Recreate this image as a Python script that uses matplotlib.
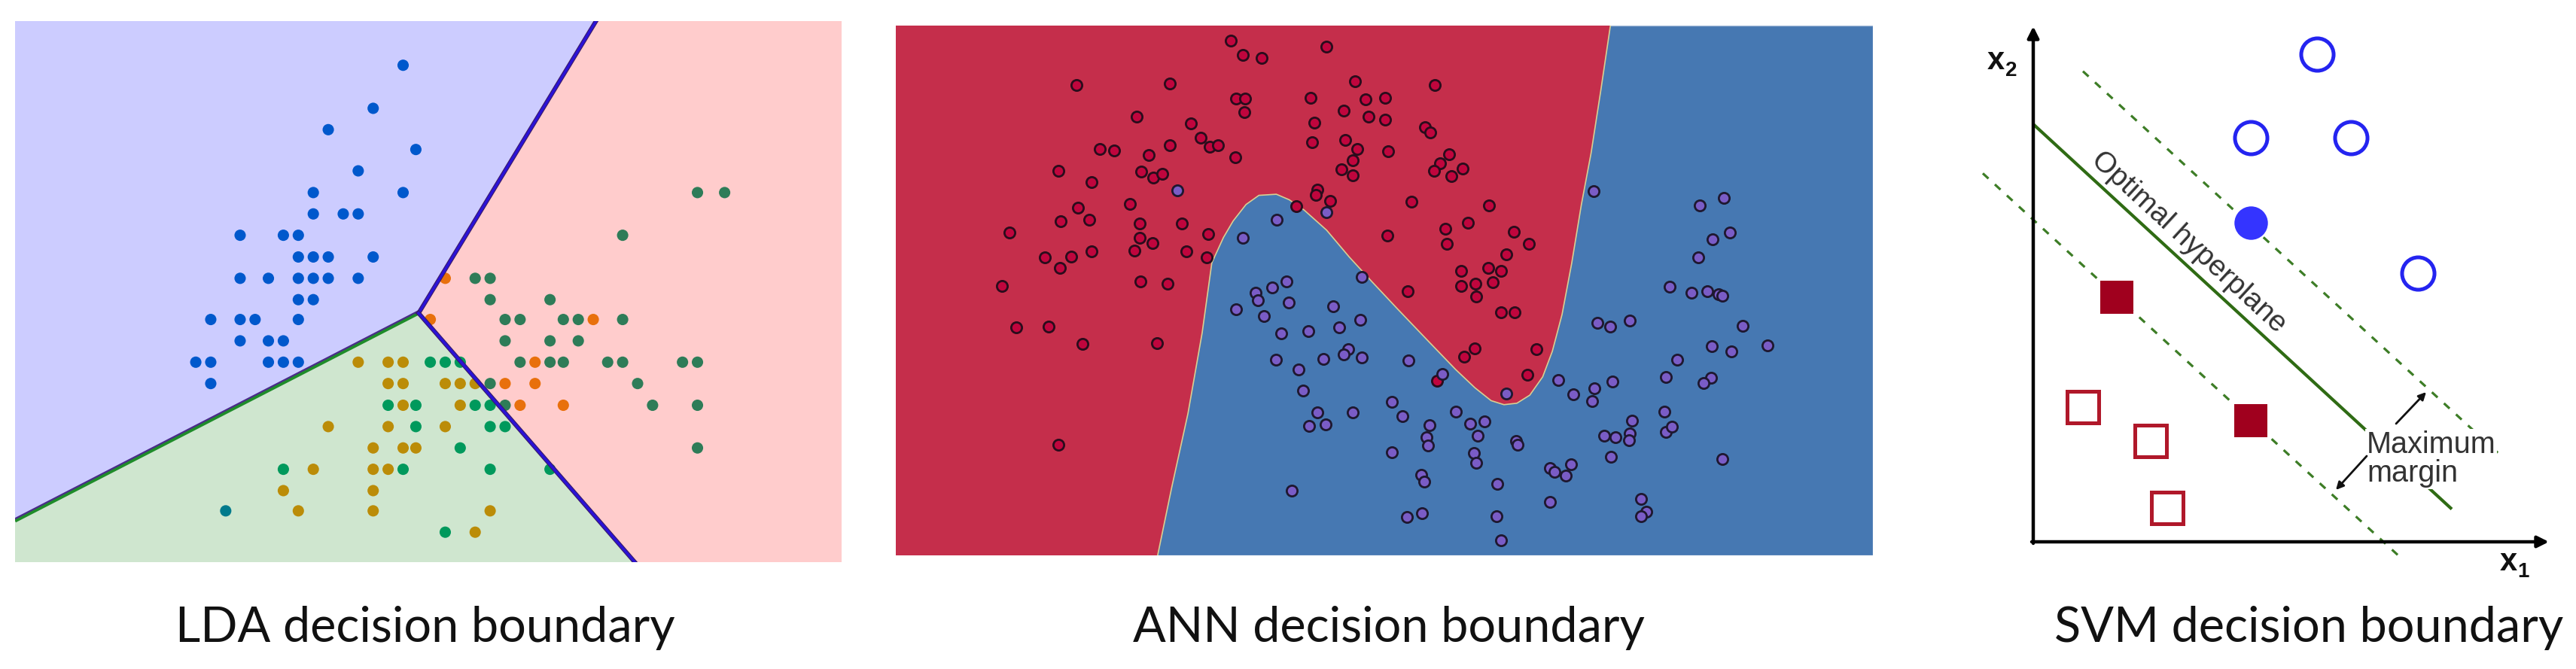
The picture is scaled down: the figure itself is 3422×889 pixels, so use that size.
import matplotlib
matplotlib.use("Agg")
import matplotlib.pyplot as plt
from matplotlib.patches import Polygon
import matplotlib.patheffects as pe

# ---------------- data ----------------
# Panel 1 (LDA) - point positions measured on the picture (x right, y down)
lda_blue = [(727,173),(673,288),(592,345),(750,398),(646,455),(565,513),(727,513),(565,570),(619,570),(646,570),
            (433,627),(511,627),(538,627),(538,685),(565,685),(592,685),(673,685),(433,742),(484,742),(538,742),
            (565,742),(592,742),(646,742),(538,799),(565,799),(380,852),(433,852),(460,852),(538,852),(433,909),
            (484,909),(511,909),(353,966),(380,966),(484,966),(511,966),(538,966),(380,1023)]
lda_darkgreen = [(1258,513),(1307,513),(1123,627),(857,742),(884,742),(884,799),(992,799),(911,852),(938,852),
                 (1016,852),(1043,852),(1123,852),(911,909),(992,909),(1043,909),(938,966),(992,966),(1016,966),
                 (1096,966),(1123,966),(1231,966),(1258,966),(884,1023),(1150,1023),(911,1081),(1177,1081),
                 (1258,1081),(1258,1195)]
lda_orange = [(803,742),(776,852),(1070,852),(965,966),(911,1023),(965,1023),(938,1081),(1016,1081)]
lda_gold = [(646,966),(700,966),(727,966),(700,1023),(727,1023),(803,1023),(830,1023),(857,1023),(727,1081),
            (830,1081),(592,1138),(700,1138),(803,1138),(673,1195),(727,1195),(750,1195),(565,1252),(673,1252),
            (700,1252),(511,1309),(673,1309),(538,1363),(673,1363),(884,1363),(857,1420)]
lda_green = [(776,966),(803,966),(830,966),(700,1081),(750,1081),(857,1081),(884,1081),(750,1138),(884,1138),
             (911,1138),(830,1195),(511,1252),(727,1252),(884,1252),(992,1252),(803,1420)]
lda_teal = [(407,1363)]
lda_junction = (755, 835)
lda_top_end = (1075, 55)
lda_left_end = (27, 1390)
lda_bottom_end = (1145, 1500)

# Panel 2 (ANN)
ann_red = [(541,113),(560,152),(589,160),(690,129),(302,235),(447,231),(734,224),(858,235),(549,272),(564,272),
           (665,270),(750,273),(781,270),(562,308),(717,304),(396,320),(755,320),(781,329),(479,338),(671,336),
           (843,350),(851,364),(495,378),(509,403),(521,398),(667,391),(719,383),(738,409),(785,415),(338,409),
           (361,412),(414,425),(447,399),(548,432),(880,422),(866,447),(730,440),(856,468),(883,483),(901,462),
           (274,468),(402,470),(421,487),(435,476),(713,465),(731,480),(325,498),(676,520),(673,533),(695,550),
           (643,565),(822,553),(942,563),(304,568),(385,559),(278,606),(322,601),(400,612),(465,612),(909,609),
           (874,626),(198,637),(506,640),(400,650),(784,645),(980,634),(876,668),(1004,668),(420,665),(392,685),
           (325,688),(473,688),(969,697),(253,705),(294,703),(504,705),(277,733),(898,741),(940,732),(960,741),
           (186,782),(401,770),(443,777),(816,797),(898,782),(921,777),(947,771),(922,811),(209,895),(259,893),
           (960,853),(982,853),(311,940),(427,938),(1015,954),(919,952),(903,975),(1001,1024),(861,1040),(274,1215)]
ann_blue = [(458,522),(690,582),(613,601),(560,650),(1104,524),(1269,563),(1306,543),(1315,637),(1288,654),
            (1266,705),(744,758),(628,770),(606,786),(580,800),(583,822),(631,828),(549,845),(593,865),(700,838),
            (1222,784),(1256,801),(1280,796),(1298,804),(1304,808),(742,875),(709,895),(662,906),(620,911),
            (1110,882),(1130,893),(1160,876),(1335,891),(724,955),(716,968),(744,977),(685,982),(612,983),
            (817,985),(1287,947),(1318,960),(1374,944),(1234,984),(646,1011),(869,1022),(1049,1038),(1133,1043),
            (1105,1062),(1216,1030),(1286,1033),(1274,1046),(654,1068),(968,1076),(1072,1077),(1102,1097),
            (791,1099),(890,1125),(935,1152),(912,1157),(850,1162),(1214,1125),(1164,1150),(676,1128),(730,1128),
            (807,1137),(663,1163),(688,1160),(924,1190),(845,1195),(847,1218),(984,1206),(986,1215),(1120,1190),
            (1138,1195),(1160,1185),(1159,1203),(1216,1180),(1225,1166),(791,1235),(918,1237),(922,1265),
            (1131,1248),(1304,1254),(1036,1278),(1043,1290),(1069,1268),(1061,1300),(837,1297),(841,1316),
            (955,1323),(636,1341),(1036,1372),(1178,1363),(1186,1398),(1178,1410),(815,1412),(838,1402),
            (953,1410),(960,1475)]
ann_boundary = [(428,1517),(450,1330),(475,1130),(497,910),(512,719),(530,650),(545,605),(565,560),(585,535),
                (612,532),(632,547),(655,575),(690,630),(725,703),(760,770),(800,845),(850,937),(890,1010),
                (920,1060),(945,1095),(965,1106),(985,1102),(1005,1080),(1025,1030),(1040,960),(1055,860),
                (1070,720),(1085,560),(1100,420),(1115,250),(1130,72)]

# Panel 3 (SVM) - pixel-like units from the axis origin (x right, y up)
svm_open_circles = [(377,648),(289,537),(422,537),(511,357)]
svm_support_circle = [(289,424)]
svm_support_squares = [(111,325),(289,161)]
svm_open_squares = [(66,179),(156,134),(178,45)]
svm_slope = -0.92
svm_hyperplane = (555, 0, 556)       # intercept, x start, x end
svm_margin_upper = (686, 66, 622)
svm_margin_lower = (428, -67, 490)
svm_axis_len = 685

titles = ["LDA decision boundary", "ANN decision boundary", "SVM decision boundary"]
title_centers = [565, 1845, 3067]

# ---------------- figure ----------------
W, H = 3423, 889
fig = plt.figure(figsize=(W / 100, H / 100), dpi=100)


def px_axes(left, top, width, height):
    ax = fig.add_axes([left / W, 1 - (top + height) / H, width / W, height / H])
    return ax


def xs(pts):
    return [p[0] for p in pts]


def ys(pts):
    return [p[1] for p in pts]


# ---- Panel 1: LDA ----
ax1 = px_axes(20, 28, 1098, 719)
ax1.set_xlim(27, 1518)
ax1.set_ylim(1500, 55)
ax1.axis("off")
ax1.add_patch(Polygon([(27, 55), lda_top_end, lda_junction, lda_left_end], closed=True,
                      facecolor="#ccccff", edgecolor="none", zorder=0))
ax1.add_patch(Polygon([lda_top_end, (1518, 55), (1518, 1500), lda_bottom_end, lda_junction], closed=True,
                      facecolor="#ffcccc", edgecolor="none", zorder=0))
ax1.add_patch(Polygon([lda_left_end, lda_junction, lda_bottom_end, (27, 1500)], closed=True,
                      facecolor="#cfe6cf", edgecolor="none", zorder=0))
dot = 118
for pts, col in [(lda_blue, "#0058cc"), (lda_darkgreen, "#2e7c58"), (lda_orange, "#e8700c"),
                 (lda_gold, "#bb8c08"), (lda_green, "#00995c"), (lda_teal, "#007a8c")]:
    ax1.scatter(xs(pts), ys(pts), s=dot, color=col, edgecolors="none", zorder=2)
ax1.plot([lda_left_end[0], lda_junction[0]], [lda_left_end[1], lda_junction[1]], color="#1f8c2a",
         lw=3.2, zorder=3, solid_capstyle="butt")
ax1.plot([lda_left_end[0], lda_junction[0]], [lda_left_end[1] - 6, lda_junction[1] - 6], color="#4a2a8a",
         lw=1.6, zorder=3, solid_capstyle="butt")
for end in (lda_top_end, lda_bottom_end):
    ax1.plot([lda_junction[0], end[0]], [lda_junction[1], end[1]], color="#2a12d6", lw=2.6, zorder=3,
             path_effects=[pe.Stroke(linewidth=4.2, foreground="#3a1a6a"), pe.Normal()])

# ---- Panel 2: ANN ----
ax2 = px_axes(1190, 34, 1298, 704)
ax2.set_xlim(22, 1537)
ax2.set_ylim(1517, 72)
ax2.axis("off")
ax2.add_patch(Polygon([(22, 72), (22, 1517), (1537, 1517), (1537, 72)], closed=True,
                      facecolor="#4678b2", edgecolor="#9fb6d6", lw=1.0, zorder=0))
ax2.add_patch(Polygon([(22, 72), (22, 1517)] + ann_boundary, closed=True,
                      facecolor="#c52e4b", edgecolor="none", zorder=0))
ax2.plot(xs(ann_boundary), ys(ann_boundary), color="#d8cf92", lw=1.2, zorder=1)
ax2.scatter(xs(ann_red), ys(ann_red), s=105, color="#c0053d", edgecolors="#2a0c1c", linewidths=2.0, zorder=2)
ax2.scatter(xs(ann_blue), ys(ann_blue), s=105, color="#7a5cc6", edgecolors="#1e1830", linewidths=2.0, zorder=2)

# ---- Panel 3: SVM ----
ax3 = px_axes(2600, 0, 823, 780)
ax3.set_xlim(-101, 722)
ax3.set_ylim(-60, 720)
ax3.axis("off")


def line_pts(spec):
    b, x0, x1 = spec
    return [x0, x1], [b + svm_slope * x0, b + svm_slope * x1]


lx, ly = line_pts(svm_hyperplane)
ax3.plot(lx, ly, color="#2f6b14", lw=3.0, zorder=2, solid_capstyle="butt")
for spec in (svm_margin_upper, svm_margin_lower):
    mx, my = line_pts(spec)
    ax3.plot(mx, my, color="#3d7d26", lw=2.3, dashes=(3.2, 3.6), zorder=2)

ax3.annotate("", xy=(0, svm_axis_len), xytext=(0, -2),
             arrowprops=dict(arrowstyle="-|>,head_length=0.9,head_width=0.45", color="black", lw=3.2,
                             shrinkA=0, shrinkB=0), zorder=3)
ax3.annotate("", xy=(svm_axis_len, 0), xytext=(-2, 0),
             arrowprops=dict(arrowstyle="-|>,head_length=0.9,head_width=0.45", color="black", lw=3.2,
                             shrinkA=0, shrinkB=0), zorder=3)

ax3.plot(xs(svm_open_circles), ys(svm_open_circles), "o", ms=31, mfc="white", mec="#2424f0", mew=3.6,
         ls="none", zorder=4)
ax3.plot(xs(svm_support_circle), ys(svm_support_circle), "o", ms=32, mfc="#3434ff", mec="#3434ff", mew=0,
         ls="none", zorder=4)
ax3.plot(xs(svm_support_squares), ys(svm_support_squares), "s", ms=31, mfc="#a0001e", mec="#a0001e", mew=0,
         ls="none", zorder=4)
ax3.plot(xs(svm_open_squares), ys(svm_open_squares), "s", ms=30, mfc="white", mec="#b0182a", mew=3.6,
         ls="none", zorder=4)

ax3.text(206, 398, "Optimal hyperplane", rotation=-42.6, rotation_mode="anchor", ha="center", va="center",
         fontsize=28, family="Liberation Sans", color="#333333", zorder=5)
ax3.text(443, 110, "Maximum\nmargin", ha="left", va="center", fontsize=28.5, family="Liberation Sans",
         color="#333333", linespacing=1.0, zorder=5,
         bbox=dict(facecolor="white", edgecolor="none", pad=1))
ax3.annotate("", xy=(522, 199), xytext=(482, 157),
             arrowprops=dict(arrowstyle="-|>,head_length=0.6,head_width=0.3", color="#111111", lw=2.0,
                             shrinkA=0, shrinkB=0), zorder=6)
ax3.annotate("", xy=(402, 69), xytext=(443, 114),
             arrowprops=dict(arrowstyle="-|>,head_length=0.6,head_width=0.3", color="#111111", lw=2.0,
                             shrinkA=0, shrinkB=0), zorder=6)

ax3.text(-50, 639, "x", ha="center", va="center", fontsize=30, fontweight="bold", family="Liberation Sans",
         color="#111111")
ax3.text(-29, 626, "2", ha="center", va="center", fontsize=20, fontweight="bold", family="Liberation Sans",
         color="#111111")
ax3.text(631, -27, "x", ha="center", va="center", fontsize=30, fontweight="bold", family="Liberation Sans",
         color="#111111")
ax3.text(651, -40, "1", ha="center", va="center", fontsize=20, fontweight="bold", family="Liberation Sans",
         color="#111111")

# ---- titles ----
tobjs = []
for t, cx in zip(titles, title_centers):
    tobjs.append(fig.text(cx / W, 1 - 834 / H, t, ha="center", va="center", fontsize=40, family="Lato",
                          color="#111111"))
fig.canvas.draw()
w0 = tobjs[0].get_window_extent().width
for t in tobjs:
    t.set_fontsize(40 * 662 / w0)

fig.savefig("out.png", dpi=100, facecolor="white")
